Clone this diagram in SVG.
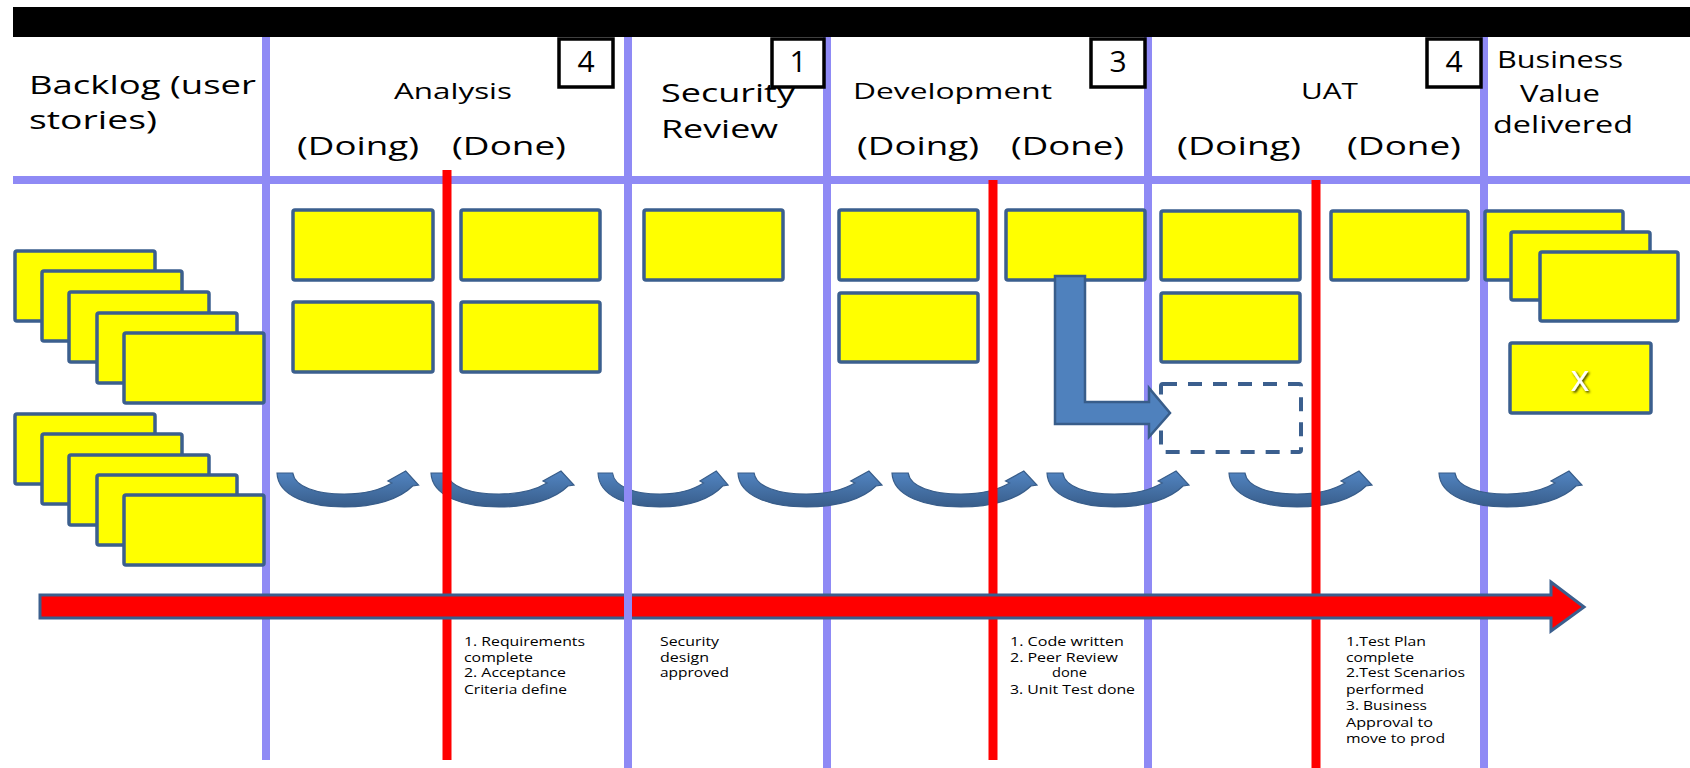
<svg xmlns="http://www.w3.org/2000/svg" xmlns:xlink="http://www.w3.org/1999/xlink" width="1690" height="768" viewBox="0 0 1690 768">
<style>
.card{fill:#FFFF00;stroke:#3B5F8E;stroke-width:3.5}
.lane{stroke:#8F8AF5;stroke-width:8;fill:none}
.red{stroke:#FF0000;stroke-width:9;fill:none}
.t{font-family:"Open Sans","DejaVu Sans",sans-serif;fill:#000}
.h{font-size:25px}
.s{font-size:13px}
.num{fill:#fff;stroke:#000;stroke-width:3.5}
</style>
<defs>
<linearGradient id="ag" x1="0" y1="0" x2="0" y2="1">
<stop offset="0" stop-color="#5285C2"/>
<stop offset="1" stop-color="#385D8A"/>
</linearGradient>
<path id="carc" d="M0,0 L16,0 C18,14 40,21 68,21 C91,21 106,16 116,10 L112,8 L130,-2 L143,12 L137,13 C124,26 99,34 68,34 C34,34 1,24 0,0 Z" fill="url(#ag)" stroke="#385D8A" stroke-width="1.2"/>
<filter id="sh" x="-50%" y="-50%" width="200%" height="200%">
<feDropShadow dx="1.5" dy="1.5" stdDeviation="1" flood-color="#000" flood-opacity="0.8"/>
</filter>
</defs>

<rect id="topbar" x="13" y="7" width="1677" height="30" fill="#000"/>
<line class="lane" x1="13" y1="180" x2="1690" y2="180" stroke-width="7"/>

<g id="lanes">
<line class="lane" x1="266" y1="37" x2="266" y2="760"/>
<line class="lane" x1="827" y1="37" x2="827" y2="768"/>
<line class="lane" x1="1148" y1="37" x2="1148" y2="768"/>
<line class="lane" x1="1484" y1="37" x2="1484" y2="768"/>
</g>

<g id="connectors">
<use href="#carc" transform="translate(277,473) scale(0.99,1)"/>
<use href="#carc" transform="translate(431,473) scale(1,1)"/>
<use href="#carc" transform="translate(598,473) scale(0.91,1)"/>
<use href="#carc" transform="translate(738,473) scale(1.007,1)"/>
<use href="#carc" transform="translate(892,473) scale(1.014,1)"/>
<use href="#carc" transform="translate(1047,473) scale(0.993,1)"/>
<use href="#carc" transform="translate(1229,473) scale(1,1)"/>
<use href="#carc" transform="translate(1439,473) scale(1,1)"/>
</g>

<g id="redlines">
<line class="red" x1="447" y1="170" x2="447" y2="760"/>
<line class="red" x1="993" y1="180" x2="993" y2="760"/>
<line class="red" x1="1316" y1="180" x2="1316" y2="768"/>
</g>

<g id="flow-arrow">
<polygon points="40,595 1551,595 1551,582 1584,607 1551,631 1551,618 40,618" fill="#FF0000" stroke="#3B5F8E" stroke-width="3"/>
</g>
<line class="lane" x1="628" y1="37" x2="628" y2="768"/>

<g id="wip-limits">
<g id="wip-analysis"><rect class="num" x="559" y="39" width="54" height="48"/><text class="t" x="586" y="72" font-size="30" text-anchor="middle">4</text></g>
<g id="wip-security"><rect class="num" x="772" y="39" width="52" height="48"/><text class="t" x="798" y="72" font-size="30" text-anchor="middle">1</text></g>
<g id="wip-dev"><rect class="num" x="1091" y="39" width="54" height="48"/><text class="t" x="1118" y="72" font-size="30" text-anchor="middle">3</text></g>
<g id="wip-uat"><rect class="num" x="1427" y="39" width="54" height="48"/><text class="t" x="1454" y="72" font-size="30" text-anchor="middle">4</text></g>
</g>

<g id="headers">
<text class="t" x="29" y="94" font-size="26" textLength="227" lengthAdjust="spacingAndGlyphs">Backlog (user</text>
<text class="t" x="29" y="129" font-size="26" textLength="128" lengthAdjust="spacingAndGlyphs">stories)</text>
<text class="t" x="394" y="99" font-size="22" textLength="118" lengthAdjust="spacingAndGlyphs">Analysis</text>
<text class="t h" x="297" y="155" textLength="122" lengthAdjust="spacingAndGlyphs">(Doing)</text>
<text class="t h" x="452" y="155" textLength="114" lengthAdjust="spacingAndGlyphs">(Done)</text>
<text class="t h" x="661" y="102" textLength="134" lengthAdjust="spacingAndGlyphs">Security</text>
<text class="t h" x="661" y="138" textLength="117" lengthAdjust="spacingAndGlyphs">Review</text>
<text class="t" x="853" y="99" font-size="22" textLength="199" lengthAdjust="spacingAndGlyphs">Development</text>
<text class="t h" x="857" y="155" textLength="122" lengthAdjust="spacingAndGlyphs">(Doing)</text>
<text class="t h" x="1011" y="155" textLength="113" lengthAdjust="spacingAndGlyphs">(Done)</text>
<text class="t" x="1301" y="99" font-size="22" textLength="57" lengthAdjust="spacingAndGlyphs">UAT</text>
<text class="t h" x="1177" y="155" textLength="124" lengthAdjust="spacingAndGlyphs">(Doing)</text>
<text class="t h" x="1347" y="155" textLength="114" lengthAdjust="spacingAndGlyphs">(Done)</text>
<text class="t" x="1497" y="68" font-size="23" textLength="126" lengthAdjust="spacingAndGlyphs">Business</text>
<text class="t" x="1520" y="102" font-size="23" textLength="80" lengthAdjust="spacingAndGlyphs">Value</text>
<text class="t" x="1493" y="133" font-size="23" textLength="140" lengthAdjust="spacingAndGlyphs">delivered</text>
</g>

<g id="backlog">
<rect class="card" x="15" y="251" width="140" height="70" rx="2"/>
<rect class="card" x="42" y="271" width="140" height="70" rx="2"/>
<rect class="card" x="69" y="292" width="140" height="70" rx="2"/>
<rect class="card" x="97" y="313" width="140" height="70" rx="2"/>
<rect class="card" x="124" y="333" width="140" height="70" rx="2"/>
<rect class="card" x="15" y="414" width="140" height="70" rx="2"/>
<rect class="card" x="42" y="434" width="140" height="70" rx="2"/>
<rect class="card" x="69" y="455" width="140" height="70" rx="2"/>
<rect class="card" x="97" y="475" width="140" height="70" rx="2"/>
<rect class="card" x="124" y="495" width="140" height="70" rx="2"/>
</g>

<g id="analysis-cards">
<rect class="card" x="293" y="210" width="140" height="70" rx="2"/>
<rect class="card" x="293" y="302" width="140" height="70" rx="2"/>
<rect class="card" x="461" y="210" width="139" height="70" rx="2"/>
<rect class="card" x="461" y="302" width="139" height="70" rx="2"/>
</g>

<g id="security-cards">
<rect class="card" x="644" y="210" width="139" height="70" rx="2"/>
</g>

<g id="dev-cards">
<rect class="card" x="839" y="210" width="139" height="70" rx="2"/>
<rect class="card" x="839" y="293" width="139" height="69" rx="2"/>
<rect class="card" x="1006" y="210" width="139" height="70" rx="2"/>
</g>

<g id="uat-cards">
<rect class="card" x="1161" y="211" width="139" height="69" rx="2"/>
<rect class="card" x="1161" y="293" width="139" height="69" rx="2"/>
<rect x="1161" y="384" width="140" height="68" rx="2" fill="none" stroke="#3B5F8E" stroke-width="4" stroke-dasharray="14 11"/>
<rect class="card" x="1331" y="211" width="137" height="69" rx="2"/>
</g>

<g id="value-cards">
<rect class="card" x="1485" y="211" width="138" height="69" rx="2"/>
<rect class="card" x="1511" y="232" width="139" height="68" rx="2"/>
<rect class="card" x="1540" y="252" width="138" height="69" rx="2"/>
<rect class="card" x="1510" y="343" width="141" height="70" rx="2"/>
<text x="1580" y="391" font-family="Open Sans, DejaVu Sans, sans-serif" font-size="36" text-anchor="middle" fill="#fff" filter="url(#sh)">x</text>
</g>

<g id="bent-arrow">
<polygon points="1055,276 1085,276 1085,402 1149,402 1149,388 1170,413 1149,437 1149,424 1055,424" fill="#4F81BD" stroke="#385D8A" stroke-width="2.5" stroke-linejoin="miter"/>
</g>

<g id="criteria">
<text class="t s" x="464" y="646" textLength="121" lengthAdjust="spacingAndGlyphs">1. Requirements</text>
<text class="t s" x="464" y="662" textLength="69" lengthAdjust="spacingAndGlyphs">complete</text>
<text class="t s" x="464" y="677" textLength="102" lengthAdjust="spacingAndGlyphs">2. Acceptance</text>
<text class="t s" x="464" y="694" textLength="103" lengthAdjust="spacingAndGlyphs">Criteria define</text>
<text class="t s" x="660" y="646" textLength="59" lengthAdjust="spacingAndGlyphs">Security</text>
<text class="t s" x="660" y="662" textLength="49" lengthAdjust="spacingAndGlyphs">design</text>
<text class="t s" x="660" y="677" textLength="69" lengthAdjust="spacingAndGlyphs">approved</text>
<text class="t s" x="1010" y="646" textLength="114" lengthAdjust="spacingAndGlyphs">1. Code written</text>
<text class="t s" x="1010" y="662" textLength="108" lengthAdjust="spacingAndGlyphs">2. Peer Review</text>
<text class="t s" x="1052" y="677" textLength="35" lengthAdjust="spacingAndGlyphs">done</text>
<text class="t s" x="1010" y="694" textLength="125" lengthAdjust="spacingAndGlyphs">3. Unit Test done</text>
<text class="t s" x="1346" y="646" textLength="80" lengthAdjust="spacingAndGlyphs">1.Test Plan</text>
<text class="t s" x="1346" y="662" textLength="68" lengthAdjust="spacingAndGlyphs">complete</text>
<text class="t s" x="1346" y="677" textLength="119" lengthAdjust="spacingAndGlyphs">2.Test Scenarios</text>
<text class="t s" x="1346" y="694" textLength="78" lengthAdjust="spacingAndGlyphs">performed</text>
<text class="t s" x="1346" y="710" textLength="81" lengthAdjust="spacingAndGlyphs">3. Business</text>
<text class="t s" x="1346" y="727" textLength="87" lengthAdjust="spacingAndGlyphs">Approval to</text>
<text class="t s" x="1346" y="743" textLength="99" lengthAdjust="spacingAndGlyphs">move to prod</text>
</g>
</svg>
